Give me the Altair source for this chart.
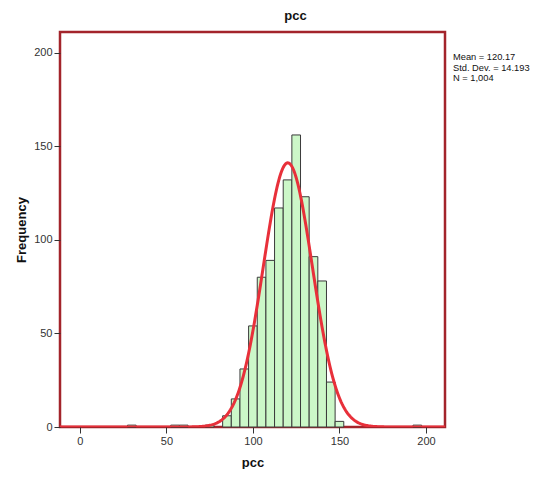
import altair as alt
import pandas as pd

# Histogram bins (centres, width 5) and frequencies
bin_centers = [30, 55, 60, 75, 85, 90, 95, 100, 105, 110, 115, 120, 125, 130, 135, 140, 145, 150, 195]
counts = [1, 1, 1, 1, 6, 15, 31, 54, 80, 89, 117, 132, 156, 123, 91, 78, 24, 3, 1]
bin_width = 5

# Summary statistics shown on the chart
mean_val = 120.17
std_val = 14.193
n_val = 1004
stats_lines = ["Mean = 120.17", "Std. Dev. = 14.193", "N = 1,004"]

x_ticks = [0, 50, 100, 150, 200]
y_ticks = [0, 50, 100, 150, 200]

df = pd.DataFrame({
    "start": [c - bin_width / 2 for c in bin_centers],
    "end": [c + bin_width / 2 for c in bin_centers],
    "count": counts,
})

XMIN, XMAX = -11.5, 211
YMAX = 211
W, H = 385, 395
FONT = "Liberation Sans"

xscale = alt.Scale(domain=[XMIN, XMAX], nice=False, zero=False)
yscale = alt.Scale(domain=[0, YMAX], nice=False)

xaxis = alt.Axis(values=x_ticks, title="pcc", grid=False, domain=False,
                 tickSize=6, tickColor="#333333", labelColor="#333333",
                 labelFontSize=11, labelFont=FONT, labelPadding=2,
                 titleFont=FONT, titleFontSize=13, titleFontWeight="bold",
                 titleColor="#111111", titleX=W / 2, titleY=35,
                 titleBaseline="middle", titleAlign="center")
yaxis = alt.Axis(values=y_ticks, title="Frequency", grid=False, domain=False,
                 tickSize=6, tickColor="#333333", labelColor="#333333",
                 labelFontSize=11, labelFont=FONT, labelPadding=2,
                 titleFont=FONT, titleFontSize=13, titleFontWeight="bold",
                 titleColor="#111111", titleX=-39, titleY=H / 2,
                 titleBaseline="middle", titleAlign="center", titleAngle=270)

bars = alt.Chart(df).mark_rect(fill="#ccf7c8", stroke="#3a3a3a", strokeWidth=1).encode(
    x=alt.X("start:Q", scale=xscale, axis=xaxis),
    x2="end:Q",
    y=alt.Y("count:Q", scale=yscale, axis=yaxis),
    y2=alt.datum(0),
)

curve = alt.Chart(alt.sequence(XMIN, XMAX + 0.5, 0.5, as_="v")).transform_calculate(
    dens=f"{n_val} * {bin_width} / ({std_val} * sqrt(2 * PI)) * exp(-0.5 * pow((datum.v - {mean_val}) / {std_val}, 2))"
).mark_line(color="#e8303a", strokeWidth=3, clip=True).encode(
    x=alt.X("v:Q", scale=xscale),
    y=alt.Y("dens:Q", scale=yscale),
)

stats = alt.Chart(pd.DataFrame({"a": [0]})).mark_text(
    align="left", baseline="top", font=FONT, fontSize=9.3, lineHeight=10.6, color="#111111"
).encode(
    x=alt.value(W + 8),
    y=alt.value(21),
    text=alt.value(stats_lines),
)

chart = alt.layer(bars, curve, stats).properties(
    width=W,
    height=H,
    title=alt.TitleParams("pcc", font=FONT, fontSize=13, fontWeight="bold", color="#111111",
                          anchor="middle", dx=43, offset=3, baseline="middle"),
    autosize=alt.AutoSizeParams(type="none"),
    padding={"left": 52, "top": 24, "right": 91, "bottom": 42},
).configure_view(
    stroke="#a3242b", strokeWidth=2.5
)

chart.save("out.html", embed_options={"renderer": "svg", "actions": False})
